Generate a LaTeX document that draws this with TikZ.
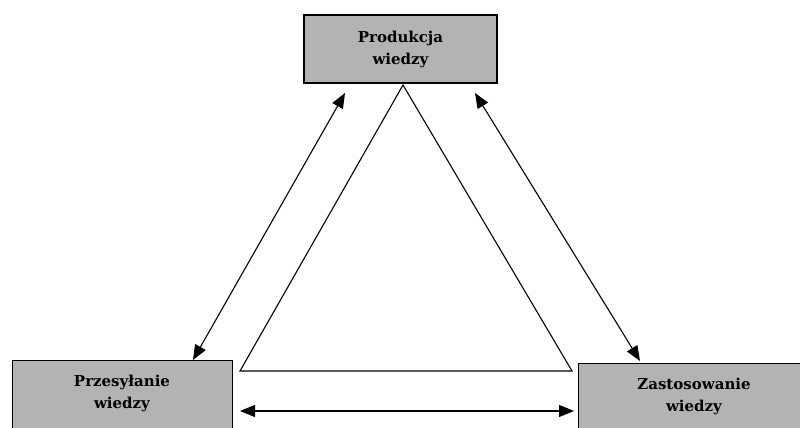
\documentclass[tikz,border=0pt]{standalone}
\usepackage{fontspec}
\setmainfont{DejaVu Serif}
\usetikzlibrary{arrows.meta,calc}
\definecolor{boxgrey}{RGB}{179,179,179}
\tikzset{
  labelfont/.style={font=\bfseries\fontsize{15pt}{22pt}\selectfont, align=center},
  stagebox/.style={draw=black, line width=1.3pt, fill=boxgrey, inner sep=0pt, labelfont},
  link/.style={line width=1.1pt, {Triangle[length=15pt,width=12pt]}-{Triangle[length=15pt,width=12pt]}},
  tri/.style={line width=1.1pt, line join=miter}
}
\begin{document}
\begin{tikzpicture}[x=1pt,y=-1pt]
  \useasboundingbox (0,0) rectangle (800,428);
  \begin{scope}
    \clip (0,0) rectangle (800,428);
    \node[stagebox, minimum width=193pt, minimum height=68pt] (prod) at (400.5,49) {Produkcja\\wiedzy};
    \node[stagebox, minimum width=220pt, minimum height=80pt, anchor=north west] (send) at (12,360) {};
    \node[stagebox, minimum width=232pt, minimum height=80pt, anchor=north west] (apply) at (578,363) {};
  \end{scope}
  \node[labelfont] (sendtxt) at (122,393) {Przesyłanie\\wiedzy};
  \node[labelfont] (applytxt) at (694,396) {Zastosowanie\\wiedzy};
  % the triangle between the three stages
  \coordinate (apex) at (403,85);
  \coordinate (bl) at (240,371);
  \coordinate (br) at (572,371);
  \draw[tri] (apex) -- (bl) -- (br) -- cycle;
  % two-way links between the stages
  \coordinate (p1) at (345,93);
  \coordinate (s1) at (193,360);
  \coordinate (p2) at (475,93);
  \coordinate (a1) at (640,361);
  \coordinate (s2) at (240,411);
  \coordinate (a2) at (574,411);
  \draw[link] (s1) -- (p1);
  \draw[link] (p2) -- (a1);
  \draw[link] (s2) -- (a2);
\end{tikzpicture}
\end{document}
